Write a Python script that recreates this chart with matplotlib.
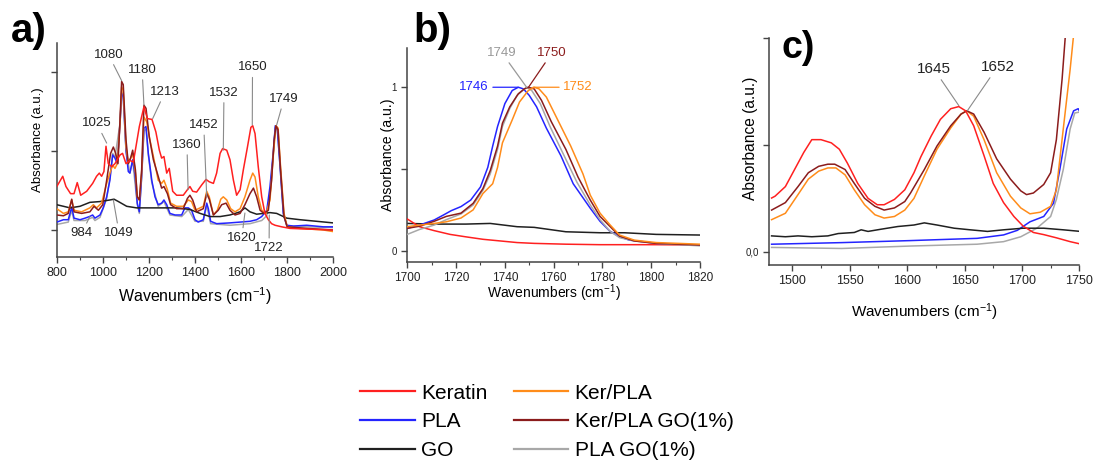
import matplotlib
matplotlib.use('Agg')
import matplotlib.pyplot as plt
from matplotlib.ticker import MultipleLocator, FixedLocator
from matplotlib.lines import Line2D

plt.rcParams['font.family'] = ['Liberation Sans', 'DejaVu Sans']
plt.rcParams['mathtext.fontset'] = 'custom'
plt.rcParams['mathtext.rm'] = 'Liberation Sans'
plt.rcParams['mathtext.default'] = 'regular'

# series names / colours
names = ['Keratin', 'PLA', 'GO', 'Ker/PLA', 'Ker/PLA GO(1%)', 'PLA GO(1%)']
colors = ['#ff2020', '#2424ff', '#202020', '#ff8c1a', '#8b1c1c', '#a8a8a8']

# ---------------- panel a (800-2000 cm-1) ----------------
a_ker_x = [799, 825, 839, 859, 874, 888, 903, 929, 955, 972, 984, 994, 1004, 1013, 1023, 1038, 1052, 1074, 1085,
           1100, 1117, 1132, 1143, 1158, 1178, 1193, 1213, 1230, 1245, 1255, 1265, 1277, 1288, 1303, 1320, 1349,
           1367, 1378, 1390, 1407, 1429, 1448, 1462, 1480, 1494, 1509, 1520, 1538, 1552, 1567, 1581, 1596, 1610,
           1628, 1643, 1651, 1661, 1675, 1690, 1704, 1719, 1733, 1748, 1777, 1813, 2000]
a_ker_y = [0.55, 0.68, 0.55, 0.46, 0.46, 0.60, 0.44, 0.49, 0.59, 0.68, 0.72, 0.68, 0.74, 1.06, 0.84, 0.80, 0.84,
           0.95, 0.97, 0.84, 0.88, 0.86, 1.05, 1.31, 1.56, 1.41, 1.40, 1.24, 1.01, 0.91, 0.93, 0.72, 0.78, 0.49,
           0.44, 0.44, 0.51, 0.55, 0.49, 0.48, 0.57, 0.64, 0.61, 0.59, 0.72, 0.97, 1.03, 1.01, 0.89, 0.63, 0.44,
           0.51, 0.76, 1.05, 1.30, 1.32, 1.22, 0.80, 0.42, 0.21, 0.13, 0.08, 0.06, 0.04, 0.02, 0.00]

a_pla_x = [799, 828, 849, 864, 874, 900, 922, 941, 955, 965, 987, 1001, 1016, 1030, 1042, 1052, 1062, 1074, 1081,
           1088, 1100, 1110, 1117, 1129, 1139, 1149, 1158, 1168, 1178, 1187, 1197, 1212, 1226, 1240, 1255, 1265,
           1277, 1291, 1313, 1342, 1356, 1371, 1385, 1400, 1414, 1436, 1451, 1458, 1468, 1494, 1552, 1639, 1668,
           1690, 1712, 1726, 1741, 1749, 1758, 1770, 1784, 1799, 1828, 1886, 1958, 2000]
a_pla_y = [0.10, 0.13, 0.13, 0.29, 0.15, 0.13, 0.15, 0.17, 0.19, 0.15, 0.19, 0.28, 0.42, 0.63, 0.95, 0.91, 0.84,
           1.35, 1.73, 1.69, 1.01, 0.74, 0.72, 0.89, 0.70, 0.34, 0.23, 0.68, 1.29, 1.31, 0.97, 0.63, 0.42, 0.32,
           0.34, 0.38, 0.32, 0.21, 0.19, 0.19, 0.28, 0.28, 0.25, 0.13, 0.10, 0.13, 0.34, 0.27, 0.11, 0.08, 0.09,
           0.11, 0.13, 0.17, 0.25, 0.55, 1.01, 1.32, 1.27, 0.80, 0.21, 0.06, 0.05, 0.06, 0.04, 0.04]

a_go_x = [799, 857, 900, 943, 987, 1030, 1048, 1067, 1103, 1146, 1233, 1320, 1378, 1422, 1465, 1509, 1552, 1596,
          1617, 1639, 1668, 1697, 1726, 1755, 1799, 1857, 1929, 2000]
a_go_y = [0.32, 0.28, 0.30, 0.35, 0.36, 0.38, 0.39, 0.36, 0.30, 0.28, 0.28, 0.28, 0.26, 0.21, 0.17, 0.17, 0.19,
          0.23, 0.28, 0.23, 0.20, 0.21, 0.22, 0.21, 0.15, 0.13, 0.11, 0.09]

a_kp_x = [799, 828, 849, 864, 874, 907, 943, 958, 972, 994, 1016, 1030, 1042, 1052, 1062, 1074, 1081, 1088, 1100,
          1110, 1120, 1129, 1141, 1149, 1158, 1168, 1178, 1190, 1204, 1222, 1240, 1255, 1265, 1280, 1294, 1320,
          1349, 1371, 1385, 1400, 1415, 1436, 1451, 1462, 1480, 1497, 1512, 1523, 1538, 1555, 1574, 1596, 1617,
          1639, 1651, 1661, 1675, 1690, 1709, 1726, 1741, 1752, 1761, 1772, 1787, 1801, 1856, 1958, 2000]
a_kp_y = [0.27, 0.21, 0.23, 0.38, 0.25, 0.23, 0.28, 0.32, 0.28, 0.34, 0.59, 0.72, 0.82, 0.78, 0.84, 1.35, 1.81,
          1.77, 1.05, 0.84, 0.91, 0.97, 0.72, 0.42, 0.38, 0.72, 1.43, 1.37, 1.14, 0.89, 0.63, 0.59, 0.63, 0.51,
          0.34, 0.30, 0.30, 0.38, 0.36, 0.25, 0.27, 0.30, 0.49, 0.42, 0.19, 0.25, 0.39, 0.42, 0.38, 0.27, 0.23,
          0.27, 0.42, 0.63, 0.72, 0.67, 0.42, 0.25, 0.21, 0.38, 0.97, 1.32, 1.29, 0.80, 0.21, 0.04, 0.02, 0.00,
          -0.02]

a_kpgo_x = [799, 828, 849, 864, 874, 907, 943, 961, 980, 999, 1016, 1033, 1045, 1055, 1065, 1074, 1081, 1088, 1100,
            1110, 1120, 1129, 1141, 1149, 1158, 1168, 1178, 1187, 1201, 1219, 1236, 1255, 1265, 1280, 1294, 1320,
            1349, 1367, 1378, 1390, 1407, 1436, 1451, 1462, 1480, 1501, 1516, 1535, 1552, 1574, 1596, 1617, 1639,
            1654, 1668, 1683, 1700, 1719, 1733, 1744, 1752, 1761, 1772, 1787, 1801, 1886, 2000]
a_kpgo_y = [0.19, 0.18, 0.21, 0.39, 0.23, 0.21, 0.23, 0.30, 0.25, 0.32, 0.63, 0.97, 1.05, 0.97, 0.84, 1.39, 1.88,
            1.84, 1.14, 0.84, 0.91, 1.01, 0.76, 0.42, 0.38, 0.76, 1.58, 1.54, 1.18, 0.89, 0.72, 0.53, 0.55, 0.46,
            0.32, 0.27, 0.27, 0.40, 0.44, 0.38, 0.23, 0.27, 0.46, 0.39, 0.19, 0.25, 0.32, 0.34, 0.25, 0.19, 0.21,
            0.32, 0.46, 0.53, 0.42, 0.25, 0.21, 0.25, 0.63, 1.14, 1.32, 1.27, 0.76, 0.17, 0.04, 0.02, 0.00]

a_plago_x = [799, 849, 864, 874, 922, 955, 965, 987, 1016, 1030, 1042, 1052, 1074, 1081, 1088, 1100, 1117, 1129,
             1149, 1158, 1168, 1178, 1187, 1197, 1212, 1240, 1265, 1291, 1342, 1371, 1400, 1436, 1451, 1468, 1552,
             1639, 1690, 1712, 1726, 1741, 1749, 1758, 1770, 1784, 1799, 1886, 2000]
a_plago_y = [0.07, 0.10, 0.25, 0.12, 0.12, 0.16, 0.12, 0.16, 0.40, 0.66, 0.97, 0.92, 1.35, 1.75, 1.70, 1.00, 0.72,
             0.88, 0.32, 0.21, 0.66, 1.25, 1.28, 0.95, 0.60, 0.30, 0.36, 0.19, 0.17, 0.26, 0.11, 0.11, 0.31, 0.08,
             0.06, 0.08, 0.12, 0.18, 0.45, 0.98, 1.30, 1.26, 0.80, 0.20, 0.05, 0.04, 0.03]

# peak labels a: (label, text x, text y, target x, target y)
a_labels = ['1080', '1180', '1213', '1025', '1360', '1452', '1532', '1650', '1749', '984', '1049', '1620', '1722']
a_text_xy = [(1024, 2.22), (1170, 2.03), (1270, 1.75), (973, 1.35), (1365, 1.08), (1438, 1.33), (1526, 1.74),
             (1650, 2.06), (1787, 1.66), (907, -0.04), (1070, -0.04), (1603, -0.10), (1722, -0.23)]
a_target_xy = [(1081, 1.89), (1178, 1.58), (1216, 1.41), (1016, 1.10), (1370, 0.51), (1451, 0.42), (1523, 1.01),
               (1649, 1.33), (1755, 1.33), (943, 0.17), (1045, 0.38), (1617, 0.215), (1723, 0.19)]

# ---------------- panel b (1700-1820 cm-1) ----------------
b_ker_x = [1700, 1705, 1711, 1717.5, 1724, 1731, 1738, 1745, 1752, 1765, 1779, 1802, 1820]
b_ker_y = [0.194, 0.147, 0.123, 0.10, 0.085, 0.07, 0.06, 0.05, 0.045, 0.04, 0.037, 0.037, 0.035]
b_pla_x = [1700, 1705, 1711, 1715, 1718, 1722, 1726, 1730, 1733, 1735, 1737, 1740, 1743, 1745.5, 1747.6, 1750,
           1753, 1757, 1763, 1768, 1775, 1779, 1783, 1787, 1791, 1797, 1802, 1810, 1820]
b_pla_y = [0.137, 0.157, 0.188, 0.22, 0.245, 0.27, 0.31, 0.39, 0.51, 0.64, 0.76, 0.90, 0.98, 1.0, 0.99, 0.95,
           0.88, 0.75, 0.58, 0.41, 0.26, 0.18, 0.12, 0.086, 0.065, 0.055, 0.045, 0.04, 0.035]
b_go_x = [1700, 1711, 1724, 1734, 1745, 1752, 1765, 1779, 1789, 1802, 1820]
b_go_y = [0.167, 0.163, 0.163, 0.167, 0.147, 0.143, 0.116, 0.11, 0.11, 0.10, 0.096]
b_kp_x = [1700, 1705, 1711, 1716, 1722, 1727, 1731, 1735, 1737, 1739, 1743, 1746, 1749.6, 1752, 1754, 1757, 1761,
          1767, 1772, 1775, 1779, 1783, 1787, 1793, 1802, 1820]
b_kp_y = [0.147, 0.157, 0.167, 0.177, 0.20, 0.25, 0.35, 0.41, 0.51, 0.66, 0.80, 0.91, 0.98, 1.0, 0.99, 0.94,
          0.82, 0.64, 0.47, 0.34, 0.23, 0.16, 0.096, 0.065, 0.05, 0.04]
b_kpgo_x = [1700, 1705, 1711, 1716, 1722, 1727, 1731, 1734, 1737, 1739, 1742, 1745.5, 1748, 1749.6, 1752, 1755,
            1759, 1765, 1770, 1775, 1779, 1783, 1787, 1793, 1802, 1820]
b_kpgo_y = [0.137, 0.15, 0.18, 0.21, 0.23, 0.29, 0.38, 0.49, 0.64, 0.78, 0.88, 0.96, 0.99, 1.0, 0.99, 0.92, 0.79,
            0.62, 0.45, 0.31, 0.21, 0.15, 0.09, 0.06, 0.045, 0.035]
b_plago_x = [1700, 1705, 1711, 1716, 1722, 1727, 1731, 1734, 1737, 1739, 1742, 1745, 1748, 1749, 1751, 1754.5,
             1758.5, 1764, 1769.5, 1775, 1779, 1783, 1787, 1793, 1802, 1820]
b_plago_y = [0.10, 0.13, 0.157, 0.19, 0.225, 0.28, 0.37, 0.47, 0.62, 0.76, 0.87, 0.95, 0.99, 1.0, 0.98, 0.90,
             0.76, 0.59, 0.42, 0.28, 0.19, 0.12, 0.08, 0.06, 0.045, 0.03]

b_labels = ['1746', '1749', '1750', '1752']
b_label_colors = [colors[1], '#999999', colors[4], colors[3]]
b_text_xy = [(1727.3, 1.0), (1738.8, 1.21), (1759.3, 1.21), (1770.0, 1.0)]
b_target_xy = [(1745.4, 1.0), (1749.1, 0.996), (1749.5, 0.996), (1751.5, 1.0)]

# ---------------- panel c (1480-1750 cm-1) ----------------
c_ker_x = [1482, 1485, 1494, 1502, 1510, 1517, 1525, 1534, 1541, 1548, 1557, 1566, 1574, 1580, 1589, 1598, 1606,
           1612, 1621, 1629, 1638, 1645, 1651, 1658, 1667, 1675, 1684, 1693, 1701, 1710, 1719, 1730, 1742, 1751]
c_ker_y = [0.503, 0.52, 0.61, 0.77, 0.93, 1.05, 1.05, 1.02, 0.96, 0.83, 0.64, 0.50, 0.44, 0.44, 0.49, 0.58, 0.74,
           0.89, 1.085, 1.24, 1.34, 1.36, 1.32, 1.18, 0.90, 0.64, 0.46, 0.33, 0.24, 0.18, 0.16, 0.13, 0.094, 0.072]
c_pla_x = [1482, 1543, 1603, 1661, 1684, 1696, 1707, 1719, 1727.5, 1733, 1739, 1745, 1749, 1751]
c_pla_y = [0.07, 0.085, 0.104, 0.125, 0.157, 0.20, 0.28, 0.33, 0.455, 0.77, 1.15, 1.32, 1.34, 1.30]
c_go_x = [1482, 1494, 1505, 1517, 1531, 1540, 1554, 1560, 1566, 1577, 1592, 1606, 1615, 1626, 1641, 1655, 1670,
          1684, 1701, 1719, 1736, 1751]
c_go_y = [0.148, 0.14, 0.148, 0.14, 0.148, 0.17, 0.18, 0.205, 0.19, 0.21, 0.236, 0.25, 0.27, 0.25, 0.22, 0.205,
          0.19, 0.205, 0.22, 0.22, 0.205, 0.19]
c_kp_x = [1482, 1494, 1505, 1514, 1523, 1531, 1538, 1546, 1554, 1563, 1572, 1580, 1589, 1598, 1606, 1615, 1626,
          1638, 1647, 1652, 1658, 1667, 1678, 1690, 1699, 1707, 1716, 1725, 1730, 1736, 1742, 1745]
c_kp_y = [0.30, 0.36, 0.535, 0.68, 0.755, 0.785, 0.785, 0.72, 0.58, 0.44, 0.346, 0.315, 0.33, 0.39, 0.50, 0.71,
          0.96, 1.16, 1.29, 1.32, 1.27, 1.05, 0.74, 0.52, 0.41, 0.355, 0.37, 0.425, 0.58, 1.15, 1.71, 2.03]
c_kpgo_x = [1482, 1494, 1505, 1514, 1523, 1531, 1537, 1546, 1554, 1563, 1572, 1580, 1589, 1598, 1603, 1615, 1626,
            1638, 1647, 1652, 1658, 1667, 1678, 1690, 1699, 1704, 1710, 1719, 1725, 1730, 1735, 1738]
c_kpgo_y = [0.39, 0.46, 0.61, 0.74, 0.80, 0.82, 0.82, 0.77, 0.64, 0.50, 0.425, 0.39, 0.41, 0.47, 0.55, 0.77, 0.99,
            1.18, 1.29, 1.32, 1.29, 1.12, 0.87, 0.68, 0.57, 0.535, 0.55, 0.63, 0.74, 1.05, 1.62, 2.05]
c_plago_x = [1482, 1543, 1603, 1661, 1684, 1699, 1713, 1725, 1730, 1736, 1742, 1746, 1751]
c_plago_y = [0.04, 0.03, 0.053, 0.07, 0.094, 0.14, 0.22, 0.33, 0.49, 0.77, 1.15, 1.30, 1.31]

c_labels = ['1645', '1652']
c_text_xy = [(1623.2, 1.714), (1678.7, 1.733)]
c_target_xy = [(1645.1, 1.368), (1652.4, 1.32)]

spine_col = '#444444'


def style(ax, xlim, ylim, fs_tick):
    ax.set_xlim(*xlim)
    ax.set_ylim(*ylim)
    for s in ['top', 'right']:
        ax.spines[s].set_visible(False)
    for s in ['left', 'bottom']:
        ax.spines[s].set_color(spine_col)
        ax.spines[s].set_linewidth(1.1)
    ax.tick_params(which='both', direction='out', colors=spine_col, labelcolor='#222222')
    ax.tick_params(which='major', length=4, width=1.0, labelsize=fs_tick)
    ax.tick_params(which='minor', length=2.5, width=0.8)


def draw(ax, xs, ys, order):
    for i in order:
        ax.plot(xs[i], ys[i], color=colors[i], lw=1.1, zorder=2 + order.index(i))


fig = plt.figure(figsize=(10.94, 4.63), dpi=100)

# panel a
ax = fig.add_axes([0.0521, 0.4449, 0.2523, 0.4622])
xs = [a_ker_x, a_pla_x, a_go_x, a_kp_x, a_kpgo_x, a_plago_x]
ys = [a_ker_y, a_pla_y, a_go_y, a_kp_y, a_kpgo_y, a_plago_y]
draw(ax, xs, ys, [5, 1, 2, 3, 4, 0])
style(ax, (800, 2000), (-0.342, 2.367), 9)
ax.xaxis.set_major_locator(MultipleLocator(200))
ax.xaxis.set_minor_locator(MultipleLocator(100))
ax.yaxis.set_major_locator(FixedLocator([0, 1, 2]))
ax.set_yticklabels([])
for lab, t, p in zip(a_labels, a_text_xy, a_target_xy):
    ax.annotate(lab, xy=p, xytext=t, ha='center', va='center', fontsize=9.5, color='#222222', zorder=10,
                arrowprops=dict(arrowstyle='-', color='#8a8a8a', lw=0.8, shrinkA=1, shrinkB=0))
ax.set_xlabel('Wavenumbers (cm$^{-1}$)', fontsize=11.5)
ax.xaxis.set_label_coords(0.5, -0.182)
ax.xaxis.label.set_va('center')
ax.set_ylabel('Absorbance (a.u.)', fontsize=9.5)
ax.yaxis.set_label_coords(-0.069, 0.55)
ax.yaxis.label.set_va('center')

# panel b
ax = fig.add_axes([0.3723, 0.4348, 0.2676, 0.4615])
xs = [b_ker_x, b_pla_x, b_go_x, b_kp_x, b_kpgo_x, b_plago_x]
ys = [b_ker_y, b_pla_y, b_go_y, b_kp_y, b_kpgo_y, b_plago_y]
draw(ax, xs, ys, [2, 0, 1, 5, 4, 3])
style(ax, (1700, 1820), (-0.067, 1.24), 8.5)
ax.xaxis.set_major_locator(MultipleLocator(20))
ax.xaxis.set_minor_locator(MultipleLocator(10))
ax.yaxis.set_major_locator(FixedLocator([0, 0.5, 1]))
ax.set_yticklabels(['0', '', '1'], fontsize=7)
for lab, lc, t, p in zip(b_labels, b_label_colors, b_text_xy, b_target_xy):
    ax.annotate(lab, xy=p, xytext=t, ha='center', va='center', fontsize=9.5, color=lc, zorder=10,
                arrowprops=dict(arrowstyle='-', color=lc, lw=0.9, shrinkA=1, shrinkB=0))
ax.set_xlabel('Wavenumbers (cm$^{-1}$)', fontsize=10)
ax.xaxis.set_label_coords(0.5, -0.146)
ax.xaxis.label.set_va('center')
ax.set_ylabel('Absorbance (a.u.)', fontsize=10.2)
ax.yaxis.set_label_coords(-0.066, 0.5)
ax.yaxis.label.set_va('center')

# panel c
ax = fig.add_axes([0.7032, 0.4276, 0.2834, 0.4897])
xs = [c_ker_x, c_pla_x, c_go_x, c_kp_x, c_kpgo_x, c_plago_x]
ys = [c_ker_y, c_pla_y, c_go_y, c_kp_y, c_kpgo_y, c_plago_y]
draw(ax, xs, ys, [5, 1, 2, 3, 4, 0])
style(ax, (1480, 1750), (-0.125, 2.0), 9)
ax.xaxis.set_major_locator(MultipleLocator(50))
ax.xaxis.set_minor_locator(MultipleLocator(25))
ax.yaxis.set_major_locator(FixedLocator([0, 1, 2]))
ax.set_yticklabels(['0,0', '', ''], fontsize=7)
for lab, t, p in zip(c_labels, c_text_xy, c_target_xy):
    ax.annotate(lab, xy=p, xytext=t, ha='center', va='center', fontsize=11, color='#222222', zorder=10,
                arrowprops=dict(arrowstyle='-', color='#8a8a8a', lw=0.8, shrinkA=1, shrinkB=0))
ax.set_xlabel('Wavenumbers (cm$^{-1}$)', fontsize=11)
ax.xaxis.set_label_coords(0.5, -0.207)
ax.xaxis.label.set_va('center')
ax.set_ylabel('Absorbance (a.u.)', fontsize=11.2)
ax.yaxis.set_label_coords(-0.062, 0.56)
ax.yaxis.label.set_va('center')

# panel letters
fig.text(0.026, 0.932, 'a)', fontsize=29, fontweight='bold', ha='center', va='center')
fig.text(0.3953, 0.934, 'b)', fontsize=29, fontweight='bold', ha='center', va='center')
fig.text(0.7299, 0.897, 'c)', fontsize=27, fontweight='bold', ha='center', va='center')

# legend
handles = [Line2D([], [], color=c, lw=1.6) for c in colors]
fig.legend(handles, names, loc='center', bbox_to_anchor=(0.500, 0.0886), ncol=2, fontsize=15, frameon=False,
           handlelength=2.6, handletextpad=0.3, columnspacing=1.3, labelspacing=0.47)

fig.savefig('out.png', dpi=100)
